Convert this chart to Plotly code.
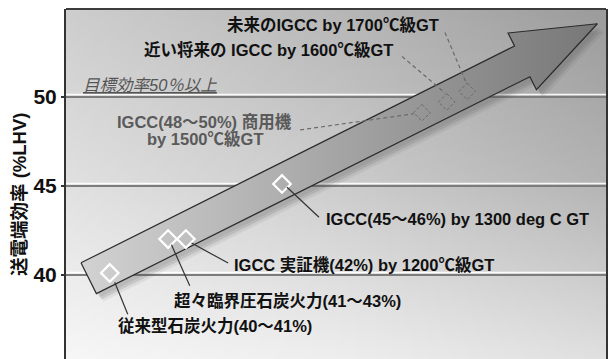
import base64
import struct
import zlib

import numpy as np
import plotly.graph_objects as go

# ---------------- data ----------------
# power generation technologies along the development path
TECH_STAGE = [8.1, 18.9, 22.2, 40.0, 65.9, 70.5, 74.3]
EFFICIENCY = [40.1, 42.0, 42.0, 45.1, 49.1, 49.7, 50.3]      # 送電端効率 (%LHV)
IS_FUTURE = [False, False, False, False, True, True, True]
TECH_LABELS = [
    "従来型石炭火力(40～41%)",
    "超々臨界圧石炭火力(41～43%)",
    "IGCC 実証機(42%) by 1200℃級GT",
    "IGCC(45～46%) by 1300 deg C GT",
    "IGCC(48～50%) 商用機\nby 1500℃級GT",
    "近い将来の IGCC by 1600℃級GT",
    "未来のIGCC by 1700℃級GT",
]

Y_TICKS = [40, 45, 50]
Y_TICK_TEXT = ["40", "45", "50"]
Y_TITLE = "送電端効率 (%LHV)"
TARGET_EFF = 50
TARGET_LABEL = "目標効率50％以上"

# overall trend arrow (stage, efficiency)
ARROW_TAIL = (4.2, 39.8)
ARROW_TIP = (98.4, 54.1)

# ---------------- layout / style ----------------
W, H = 611, 359
M_L, M_R, M_T, M_B = 66, 5, 9, 0
X_RANGE = [0, 100]
Y_RANGE = [35.26, 54.93]
KX = (W - M_L - M_R) / (X_RANGE[1] - X_RANGE[0])   # px per stage unit
KY = (H - M_T - M_B) / (Y_RANGE[1] - Y_RANGE[0])   # px per % unit

FONT = "Liberation Sans, Noto Sans CJK JP, sans-serif"
LABEL_SIZE = 16.5

# per-label placement in pixels relative to its marker (x right, y up):
# (xshift, yshift, xanchor, leader start, leader end)
LABEL_PLACE = [
    (6, -53, "left", (5, -9.3), (18, -41.3)),
    (3.7, -61.7, "left", (3.4, -5.7), (21.7, -46.7)),
    (46, -25.7, "left", (5.7, -4), (42.3, -24)),
    (41.6, -34.7, "left", (5, -3.4), (37, -33.4)),
    (-217, -8.4, "center", (-121.7, -17.2), (-8, -1)),
    (-304.7, 51.7, "left", (-44.7, 45.7), (-1.5, 9)),
    (-242.3, 66.7, "left", (-22.3, 59), (-1, 8.5)),
]
LINE_STEP = 18.3

# background shading control grid (rows top->bottom, cols left->right)
BG_SHADE = [
    [206, 184, 156],
    [225, 205, 181],
    [247, 238, 224],
]


def gray_png(img):
    h, w = img.shape
    raw = b"".join(b"\x00" + bytes(row) for row in img.astype(np.uint8))

    def chunk(tag, data):
        c = struct.pack(">I", len(data)) + tag + data
        return c + struct.pack(">I", zlib.crc32(tag + data) & 0xFFFFFFFF)

    png = (b"\x89PNG\r\n\x1a\n"
           + chunk(b"IHDR", struct.pack(">IIBBBBB", w, h, 8, 0, 0, 0, 0))
           + chunk(b"IDAT", zlib.compress(raw))
           + chunk(b"IEND", b""))
    return "data:image/png;base64," + base64.b64encode(png).decode()


ctrl = np.array(BG_SHADE, float)
gx = np.linspace(0, 2, 108)
gy = np.linspace(0, 2, 70)
rows_i = np.array([np.interp(gx, [0, 1, 2], r) for r in ctrl])
bg_img = np.array([np.interp(gy, [0, 1, 2], rows_i[:, j]) for j in range(len(gx))]).T
bg_uri = gray_png(np.clip(bg_img, 0, 255))


def arrow_polygon(tail, tip, shaft_hw=17.2, head_hw=31.7, head_len=84):
    """Block arrow outline built in pixel space and mapped back to data units."""
    t = np.array([tail[0] * KX, tail[1] * KY])
    p = np.array([tip[0] * KX, tip[1] * KY])
    d = p - t
    u = d / np.hypot(*d)
    n = np.array([-u[1], u[0]])
    base = p - u * head_len
    pts = [t + n * shaft_hw, base + n * shaft_hw, base + n * head_hw, p,
           base - n * head_hw, base - n * shaft_hw, t - n * shaft_hw, t + n * shaft_hw]
    pts = np.array(pts)
    return pts[:, 0] / KX, pts[:, 1] / KY


fig = go.Figure()

ax_, ay_ = arrow_polygon(ARROW_TAIL, ARROW_TIP)

# soft drop shadow
for (ox, oy, a) in [(3, -4, 0.10), (5, -6, 0.14), (7, -8, 0.08)]:
    fig.add_trace(go.Scatter(
        x=ax_ + ox / KX, y=ay_ + oy / KY, mode="lines", fill="toself",
        fillcolor=f"rgba(70,70,70,{a})", line=dict(width=0),
        hoverinfo="skip", showlegend=False))

fig.add_trace(go.Scatter(
    x=ax_, y=ay_, mode="lines", fill="toself",
    fillgradient=dict(type="horizontal",
                      colorscale=[[0, "#d2d2d2"], [0.45, "#a9a9a9"], [1, "#777777"]]),
    line=dict(color="#2b2b2b", width=1.2),
    hoverinfo="skip", showlegend=False))

# existing technologies: white open diamonds
cur_x = [x for x, f in zip(TECH_STAGE, IS_FUTURE) if not f]
cur_y = [y for y, f in zip(EFFICIENCY, IS_FUTURE) if not f]
fig.add_trace(go.Scatter(
    x=cur_x, y=cur_y, mode="markers",
    marker=dict(symbol="diamond-open", size=13.5, color="white",
                line=dict(width=2.2, color="white")),
    hoverinfo="skip", showlegend=False))

shapes = []
annotations = []

# gridline highlights
for v in Y_TICKS:
    shapes.append(dict(type="line", xref="paper", x0=0, x1=1,
                       yref="y", ysizemode="pixel", yanchor=v, y0=2.2, y1=2.2,
                       line=dict(color="rgba(255,255,255,0.9)", width=1.5),
                       layer="below"))

# frame top edge
shapes.append(dict(type="line", xref="paper", yref="paper", x0=0, x1=1, y0=1, y1=1,
                   line=dict(color="#3c3c3c", width=2)))

for x, y, fut, text, place in zip(TECH_STAGE, EFFICIENCY, IS_FUTURE, TECH_LABELS, LABEL_PLACE):
    xs, ys, xanc, (l0x, l0y), (l1x, l1y) = place
    if fut:
        r = 8.3
        shapes.append(dict(
            type="path", xref="x", yref="y", xsizemode="pixel", ysizemode="pixel",
            xanchor=x, yanchor=y,
            path=f"M0,{r} L{r},0 L0,{-r} L{-r},0 Z",
            line=dict(color="#6a6a6a", width=1, dash="3px,2px")))
    shapes.append(dict(
        type="line", xref="x", yref="y", xsizemode="pixel", ysizemode="pixel",
        xanchor=x, yanchor=y, x0=l0x, y0=l0y, x1=l1x, y1=l1y,
        line=dict(color="#6a6a6a" if fut else "#333333", width=1.2,
                  dash="4px,3px" if fut else "solid")))
    color = "#5a5a5a" if (fut and "\n" in text) else "#111111"
    for i, line_txt in enumerate(text.split("\n")):
        annotations.append(dict(
            x=x, y=y, xref="x", yref="y", text=line_txt, showarrow=False,
            xanchor=xanc, yanchor="middle", xshift=xs, yshift=ys - i * LINE_STEP,
            font=dict(family=FONT, size=LABEL_SIZE, color=color, weight="bold")))

# efficiency target note
annotations.append(dict(
    x=0, xref="paper", y=TARGET_EFF, yref="y", text=f"<u>{TARGET_LABEL}</u>",
    showarrow=False, xanchor="left", yanchor="middle", xshift=15, yshift=11.7,
    font=dict(family=FONT, size=LABEL_SIZE, color="#555555", style="italic")))

# y-axis title
annotations.append(dict(
    x=0, xref="paper", y=0.5, yref="paper", text=Y_TITLE, textangle=-90,
    showarrow=False, xanchor="center", yanchor="middle", xshift=-47, yshift=-11,
    font=dict(family=FONT, size=18.5, color="#111111", weight="bold")))

fig.update_layout(
    width=W, height=H,
    margin=dict(l=M_L, r=M_R, t=M_T, b=M_B, pad=0),
    paper_bgcolor="white", plot_bgcolor="#d8d8d8",
    showlegend=False,
    shapes=shapes, annotations=annotations,
    images=[dict(source=bg_uri, xref="paper", yref="paper", x=0, y=1,
                 sizex=1, sizey=1, sizing="stretch", xanchor="left",
                 yanchor="top", layer="below")],
    xaxis=dict(range=X_RANGE, visible=False, fixedrange=True),
    yaxis=dict(range=Y_RANGE, tickvals=Y_TICKS, ticktext=Y_TICK_TEXT,
               showgrid=True, gridcolor="#7c7c7c", gridwidth=1.6,
               zeroline=False, showline=True, mirror=True,
               linecolor="#333333", linewidth=2,
               ticks="outside", ticklen=3, tickwidth=1.5, tickcolor="#333333",
               tickfont=dict(family=FONT, size=21, color="#111111", weight="bold"),
               fixedrange=True),
)

fig.write_html("out.html")
